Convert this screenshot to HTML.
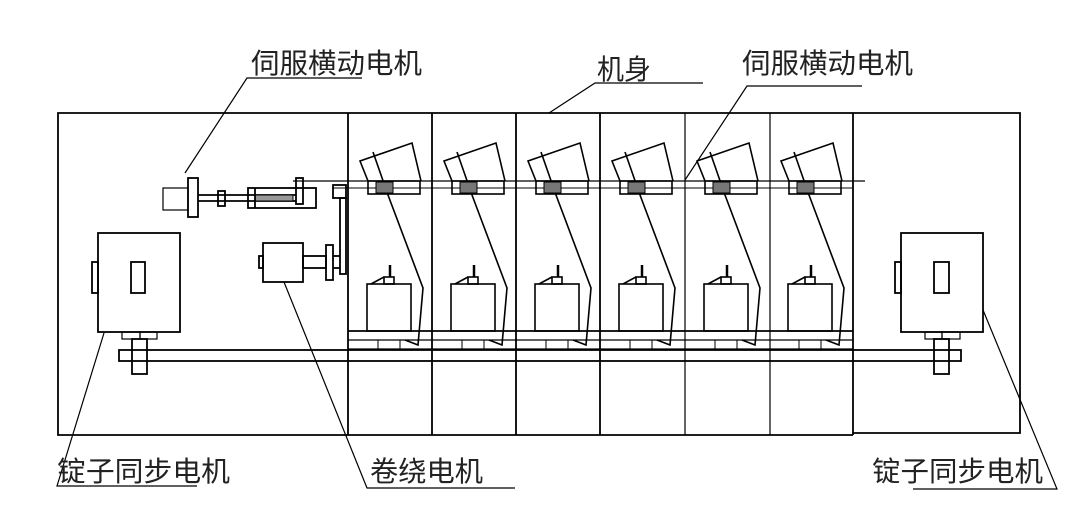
<!DOCTYPE html>
<html><head><meta charset="utf-8"><style>
html,body{margin:0;padding:0;background:#fff;}
svg{display:block;}
text{font-family:"Liberation Sans","Noto Sans CJK SC",sans-serif;font-size:28px;fill:#222;}
</style></head><body>
<svg width="1080" height="529" viewBox="0 0 1080 529" xmlns="http://www.w3.org/2000/svg">
<defs>
<g id="sp" fill="none" stroke="#000" stroke-width="1.6">
  <polyline points="368,181 360,161 412,143 421,181"/>
  <polyline points="373,152 388,195 423,288 418,345 405,340"/>
  <rect x="368" y="181" width="52" height="13"/>
  <rect x="376" y="182" width="17" height="11" fill="#777" stroke-width="1"/>
  <rect x="367" y="284" width="44" height="47"/>
  <rect x="384" y="277" width="10" height="7"/>
  <line x1="371" y1="284" x2="384" y2="277"/>
  <line x1="390" y1="265" x2="390" y2="277" stroke-width="2.5"/>
  <line x1="378" y1="340" x2="378" y2="349" stroke-width="1"/>
  <line x1="400" y1="340" x2="400" y2="349" stroke-width="1"/>
</g>
</defs>
<g fill="none" stroke="#000" stroke-width="1.8">
  <!-- frame -->
  <polyline points="853,433 1020,433 1020,113 58,113 58,435 853,435"/>
  <line x1="348" y1="113" x2="348" y2="435"/>
  <line x1="432" y1="113" x2="432" y2="435"/>
  <line x1="516" y1="113" x2="516" y2="435"/>
  <line x1="600" y1="113" x2="600" y2="435"/>
  <line x1="685" y1="113" x2="685" y2="435" stroke-width="1.2"/>
  <line x1="770" y1="113" x2="770" y2="435" stroke-width="1.2"/>
  <line x1="853" y1="113" x2="853" y2="435"/>
  <!-- platform -->
  <line x1="348" y1="331" x2="853" y2="331"/>
  <line x1="348" y1="340" x2="853" y2="340" stroke-width="1.2"/>
  <line x1="348" y1="349" x2="853" y2="349" stroke-width="1.2"/>
  <!-- horizontal traverse lines -->
  <line x1="293" y1="181" x2="865" y2="181" stroke-width="1.2"/>
  <line x1="333" y1="188" x2="853" y2="188" stroke-width="1"/>
  <!-- bar -->
  <rect x="119" y="350" width="842" height="11"/>
  <!-- left motor -->
  <rect x="98" y="233" width="82" height="99"/>
  <rect x="131" y="262" width="14" height="31"/>
  <rect x="92" y="262" width="6" height="31"/>
  <rect x="122" y="332" width="18" height="7" stroke-width="1.2"/>
  <rect x="140" y="332" width="17" height="7" stroke-width="1.2"/>
  <rect x="132" y="339" width="15" height="35"/>
  <!-- right motor -->
  <rect x="901" y="233" width="82" height="99"/>
  <rect x="934" y="262" width="15" height="31"/>
  <rect x="895" y="262" width="6" height="31"/>
  <rect x="925" y="332" width="17" height="7" stroke-width="1.2"/>
  <rect x="942" y="332" width="18" height="7" stroke-width="1.2"/>
  <rect x="934" y="339" width="15" height="35"/>
  <!-- servo motor -->
  <rect x="163" y="188" width="25" height="22" stroke-width="1.2"/>
  <rect x="188" y="178" width="10" height="39"/>
  <line x1="198" y1="195" x2="296" y2="195"/>
  <line x1="198" y1="201" x2="296" y2="201"/>
  <rect x="218" y="191" width="7" height="15"/>
  <rect x="248" y="188" width="68" height="20"/>
  <rect x="255" y="195" width="38" height="6" fill="#999" stroke-width="1"/>
  <rect x="296" y="178" width="7" height="26"/>
  <line x1="255" y1="188" x2="255" y2="208"/>
  <!-- belt -->
  <rect x="333" y="185" width="13" height="13"/>
  <rect x="340" y="198" width="6" height="76"/>
  <!-- winding motor -->
  <rect x="263" y="243" width="40" height="39"/>
  <rect x="259" y="256" width="4" height="12"/>
  <rect x="303" y="256" width="23" height="12"/>
  <rect x="326" y="245" width="7" height="35"/>
  <line x1="333" y1="256" x2="340" y2="256"/><line x1="333" y1="268" x2="340" y2="268"/>
</g>
<use href="#sp"/>
<use href="#sp" transform="translate(84,0)"/>
<use href="#sp" transform="translate(168,0)"/>
<use href="#sp" transform="translate(252,0)"/>
<use href="#sp" transform="translate(337,0)"/>
<use href="#sp" transform="translate(421,0)"/>
<!-- leaders -->
<g fill="none" stroke="#000" stroke-width="1.2">
  <polyline points="185,173 247,78 362,78"/>
  <polyline points="549,113 595,83 703,83"/>
  <polyline points="685,180 747,86 862,86"/>
  <polyline points="104,333 57,486 197,486"/>
  <polyline points="284,282 367,488 515,488"/>
  <polyline points="983,310 1057,489 913,489"/>
</g>
<g>
  <text x="251" y="73" textLength="171" lengthAdjust="spacingAndGlyphs">伺服横动电机</text>
  <text x="597" y="79" textLength="54" lengthAdjust="spacingAndGlyphs">机身</text>
  <text x="742" y="73" textLength="171" lengthAdjust="spacingAndGlyphs">伺服横动电机</text>
  <text x="57" y="481" textLength="173" lengthAdjust="spacingAndGlyphs">锭子同步电机</text>
  <text x="370" y="481" textLength="113" lengthAdjust="spacingAndGlyphs">卷绕电机</text>
  <text x="872" y="481" textLength="171" lengthAdjust="spacingAndGlyphs">锭子同步电机</text>
</g>
</svg>
</body></html>
